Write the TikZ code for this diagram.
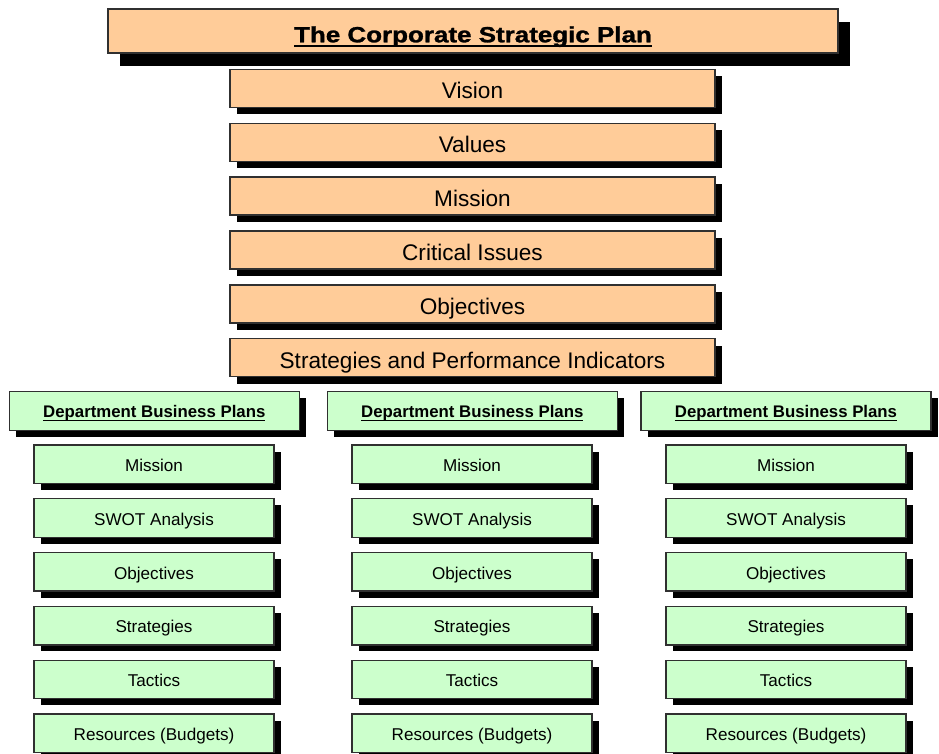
\documentclass[tikz,border=0pt]{standalone}
\usepackage{fontspec}
\setmainfont{Liberation Sans}
\usetikzlibrary{shadows}

\definecolor{peach}{HTML}{FFCC99}
\definecolor{mint}{HTML}{CCFFCC}
\definecolor{edge}{HTML}{303030}

% underlined text: #1 = depth of the rule's centre below the baseline, #2 = thickness
\newcommand{\ulword}[3]{\setbox0\hbox{#3}\rlap{\rule[\dimexpr-#1-#2/2\relax]{\wd0}{#2}}\box0}

\tikzset{
  x=1pt, y=-1pt,
  card/.style={draw=edge, line width=1.3pt, inner sep=0pt, outer sep=0pt,
    anchor=north west, align=center, text depth=0pt},
  titlecard/.style={card, fill=peach, minimum width=730pt, minimum height=44pt,
    text height=22.6pt,
    drop shadow={shadow xshift=12pt, shadow yshift=-12.5pt, opacity=1, fill=black},
    font=\fontsize{22}{26}\selectfont\bfseries\addfontfeature{FakeBold=1.2}},
  plancard/.style={card, fill=peach, minimum width=485pt, minimum height=38pt,
    text height=21pt,
    drop shadow={shadow xshift=7pt, shadow yshift=-7pt, opacity=1, fill=black},
    font=\fontsize{22.6}{26}\selectfont},
  deptcard/.style={card, fill=mint, minimum width=290pt, minimum height=38.5pt,
    text height=12.2pt,
    drop shadow={shadow xshift=6.5pt, shadow yshift=-6.5pt, opacity=1, fill=black},
    font=\fontsize{16.8}{20}\selectfont\bfseries},
  itemcard/.style={card, fill=mint, minimum width=240pt, minimum height=38.5pt,
    text height=14.4pt,
    drop shadow={shadow xshift=6.5pt, shadow yshift=-6.5pt, opacity=1, fill=black},
    font=\fontsize{17.1}{20}\selectfont},
}

\begin{document}
\begin{tikzpicture}
\useasboundingbox (0,0) rectangle (939,753);

% corporate plan
\node[titlecard] (title) at (108,9)
  {\scalebox{1.18}[1]{\ulword{3.4pt}{2pt}{The Corporate Strategic Plan}}};

\foreach \label [count=\k from 0] in {Vision, Values, Mission, Critical Issues,
    Objectives, Strategies and Performance Indicators}
  \node[plancard] (plan-\k) at (230, 69.3+53.9*\k) {\label};

% department business plans, three columns
\foreach \hx/\ix [count=\c] in {9.3/34, 327.3/352, 641/666} {
  \node[deptcard] (dept-\c) at (\hx, 391.7)
    {\ulword{3.6pt}{1.6pt}{Department Business Plans}};
  \foreach \label [count=\k from 0] in {Mission, SWOT Analysis, Objectives,
      Strategies, Tactics, Resources (Budgets)}
    \node[itemcard] (dept-\c-\k) at (\ix, 445+53.8*\k) {\label};
}
\end{tikzpicture}
\end{document}
